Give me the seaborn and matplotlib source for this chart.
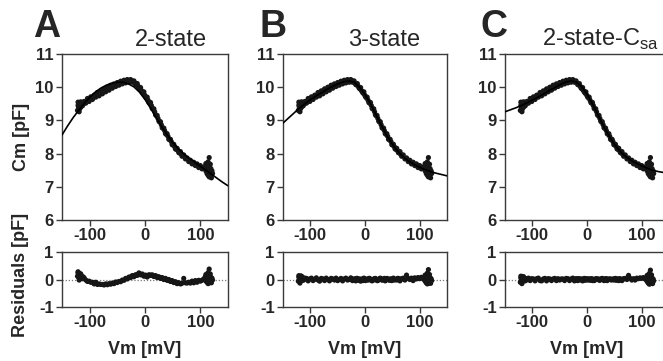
import matplotlib
matplotlib.use("Agg")
import matplotlib.pyplot as plt
import seaborn as sns
import pandas as pd

# ---------------- data ----------------
vm_left = [-122, -121, -121, -120, -120, -119, -119, -118, -118, -117, -116, -116,
           -115, -114, -113, -112, -111, -110]
vm_mid = [-107, -104, -101, -98, -95, -92, -89, -86, -83, -80,
          -77, -74, -71, -68, -65, -62, -59, -56, -53, -50,
          -47, -44, -41, -38, -35, -32, -29, -26, -23, -20,
          -17, -14, -11, -8, -5, -2, 1, 4, 7, 10,
          13, 16, 19, 22, 25, 28, 31, 34, 37, 40,
          43, 46, 49, 52, 55, 58, 61, 64, 67, 70,
          73, 76, 79, 82, 85, 88, 91, 94, 97, 100,
          103, 106]
vm_fall = [-24.5, -21.5, -18.5, -15.5, -12.5, -9.5, -6.5, -3.5, -0.5, 2.5,
           5.5, 8.5, 11.5, 14.5, 17.5, 20.5, 23.5, 26.5, 29.5, 32.5,
           35.5, 38.5, 41.5, 44.5, 47.5, 50.5, 53.5, 56.5, 59.5, 62.5,
           65.5]
vm_right = [108, 109, 110, 110, 111, 112, 112, 113, 114, 114, 115, 115,
            116, 116, 117, 117, 118, 118, 119, 120, 121, 122]

cm_left = [9.30, 9.45, 9.55, 9.38, 9.50, 9.26, 9.42, 9.35, 9.53, 9.45, 9.40, 9.56,
           9.48, 9.51, 9.44, 9.54, 9.50, 9.57]
cm_mid = [9.52, 9.66, 9.57, 9.71, 9.63, 9.76, 9.70, 9.84, 9.74, 9.89,
          9.80, 9.95, 9.86, 10.00, 9.91, 10.06, 9.97, 10.10, 10.02, 10.14,
          10.06, 10.18, 10.10, 10.21, 10.13, 10.23, 10.15, 10.23, 10.15, 10.19,
          10.08, 10.11, 9.98, 9.99, 9.86, 9.86, 9.71, 9.70, 9.54, 9.54,
          9.36, 9.35, 9.17, 9.15, 8.98, 8.96, 8.78, 8.77, 8.60, 8.60,
          8.43, 8.43, 8.27, 8.28, 8.14, 8.16, 8.03, 8.06, 7.92, 7.96,
          7.84, 7.87, 7.76, 7.80, 7.69, 7.74, 7.64, 7.69, 7.58, 7.64,
          7.54, 7.59]
cm_fall = [10.20, 10.17, 10.13, 10.07, 10.03, 9.95, 9.90, 9.82, 9.76, 9.68,
           9.61, 9.52, 9.45, 9.34, 9.26, 9.14, 9.06, 8.95, 8.87, 8.76,
           8.69, 8.58, 8.52, 8.42, 8.36, 8.26, 8.21, 8.13, 8.09, 8.02,
           7.98]
cm_right = [7.55, 7.62, 7.48, 7.70, 7.58, 7.40, 7.65, 7.52, 7.35, 7.75, 7.45, 7.60,
            7.30, 7.88, 7.50, 7.42, 7.38, 7.68, 7.55, 7.27, 7.48, 7.40]

resA_left = [0.12, 0.24, 0.28, 0.08, 0.20, -0.02, 0.14, 0.06, 0.22, 0.14, 0.06, 0.20,
             0.10, 0.10, 0.03, 0.10, 0.04, 0.06]
resA_mid = [-0.02, -0.07, -0.06, -0.10, -0.10, -0.16, -0.10, -0.18, -0.16, -0.18,
            -0.18, -0.20, -0.16, -0.19, -0.15, -0.17, -0.13, -0.15, -0.09, -0.11,
            -0.07, -0.08, -0.02, -0.03, 0.04, 0.02, 0.09, 0.07, 0.14, 0.10,
            0.17, 0.15, 0.24, 0.17, 0.20, 0.12, 0.16, 0.09, 0.17, 0.15,
            0.17, 0.11, 0.14, 0.07, 0.10, 0.04, 0.07, 0.00, 0.04, -0.03,
            0.00, -0.07, -0.04, -0.11, -0.08, -0.15, -0.12, -0.16, -0.13, 0.04,
            -0.12, -0.13, -0.10, -0.13, -0.06, -0.12, -0.04, -0.10, -0.03, -0.06,
            -0.03, 0.02]
resA_fall = [0.11, 0.13, 0.15, 0.16, 0.19, 0.20, 0.18, 0.16, 0.14, 0.13,
             0.14, 0.16, 0.15, 0.14, 0.12, 0.11, 0.09, 0.07, 0.05, 0.03,
             0.02, 0.00, -0.02, -0.04, -0.06, -0.08, -0.10, -0.12, -0.13, -0.14,
             -0.15]
resA_right = [0.02, 0.10, -0.05, 0.18, 0.05, -0.10, 0.15, 0.02, -0.15, 0.25, -0.05, 0.12,
              -0.12, 0.38, 0.05, -0.05, -0.08, 0.20, 0.08, -0.12, 0.05, -0.02]

resB_left = [-0.06, 0.08, 0.14, -0.02, 0.10, -0.13, 0.04, -0.05, 0.13, 0.05, -0.02, 0.12,
             0.03, 0.05, -0.03, 0.05, 0.00, 0.05]
resB_mid = [0.04, -0.05, 0.02, 0.05, -0.04, 0.01, 0.06, -0.02, -0.06, 0.04,
            0.02, -0.04, 0.05, 0.00, -0.05, 0.04, 0.02, -0.02, 0.05, -0.04,
            0.00, 0.04, -0.05, 0.02, 0.05, -0.02, 0.00, 0.06, -0.04, 0.02,
            -0.05, 0.04, 0.00, -0.06, 0.02, 0.05, -0.04, 0.00, 0.04, -0.02,
            -0.05, 0.02, 0.04, -0.04, 0.00, 0.05, -0.02, 0.02, -0.05, 0.04,
            0.00, 0.02, -0.04, 0.05, 0.00, -0.02, 0.04, -0.05, 0.02, 0.05,
            -0.02, 0.16, 0.04, 0.00, 0.05, -0.04, 0.06, 0.02, 0.07, 0.03,
            0.08, 0.04]
resB_fall = [0.03, -0.02, 0.01, 0.04, -0.03, 0.02, 0.00, -0.04, 0.03, 0.01,
             -0.02, 0.04, 0.00, -0.03, 0.02, 0.01, -0.04, 0.03, 0.00, -0.02,
             0.04, -0.01, 0.02, -0.03, 0.01, 0.03, -0.02, 0.00, 0.04, -0.01,
             0.02]
resB_right = [0.00, 0.08, -0.06, 0.16, 0.04, -0.12, 0.13, 0.00, -0.16, 0.23, -0.06, 0.10,
              -0.14, 0.36, 0.04, -0.06, -0.10, 0.18, 0.06, -0.14, 0.03, -0.04]

resC_left = [-0.10, 0.05, 0.12, -0.05, 0.08, -0.15, 0.02, -0.07, 0.11, 0.03, -0.04, 0.10,
             0.01, 0.03, -0.05, 0.03, -0.02, 0.03]
resC_mid = [0.05, -0.04, 0.03, 0.02, -0.05, 0.03, 0.05, -0.04, -0.05, 0.02,
            0.04, -0.05, 0.03, 0.02, -0.04, 0.02, 0.04, -0.04, 0.03, -0.02,
            0.02, 0.02, -0.04, 0.04, 0.03, -0.04, 0.02, 0.05, -0.05, 0.03,
            -0.04, 0.02, 0.02, -0.05, 0.04, 0.03, -0.02, 0.02, 0.02, -0.04,
            -0.04, 0.03, 0.02, -0.02, 0.02, 0.04, -0.04, 0.03, -0.04, 0.02,
            0.02, 0.00, -0.02, 0.04, 0.02, -0.04, 0.02, -0.04, 0.03, 0.04,
            0.00, 0.15, 0.04, -0.02, 0.03, -0.02, 0.05, 0.03, 0.06, 0.04,
            0.07, 0.03]
resC_fall = [0.02, -0.03, 0.02, 0.03, -0.02, 0.01, 0.01, -0.03, 0.02, 0.02,
             -0.03, 0.03, 0.01, -0.02, 0.01, 0.02, -0.03, 0.02, 0.01, -0.03,
             0.03, 0.00, 0.01, -0.02, 0.02, 0.02, -0.03, 0.01, 0.03, -0.02,
             0.01]
resC_right = [-0.01, 0.07, -0.07, 0.15, 0.03, -0.13, 0.12, -0.01, -0.17, 0.22, -0.07, 0.09,
              -0.15, 0.34, 0.03, -0.07, -0.11, 0.17, 0.05, -0.15, 0.02, -0.05]

fit_vm = [-150, -140, -130, -120, -110, -100, -90, -80, -70, -60, -50, -40, -30, -20, -10,
          0, 10, 20, 30, 40, 50, 60, 70, 80, 90, 100, 110, 120, 130, 140, 150]
fit_2state = [8.56, 8.83, 9.08, 9.30, 9.51, 9.69, 9.85, 9.97, 10.06, 10.12, 10.15, 10.15,
              10.10, 10.01, 9.85, 9.63, 9.37, 9.09, 8.82, 8.57, 8.34, 8.15, 7.99, 7.86,
              7.74, 7.62, 7.50, 7.38, 7.26, 7.14, 7.03]
fit_3state = [8.92, 9.07, 9.22, 9.37, 9.50, 9.62, 9.73, 9.83, 9.93, 10.02, 10.10, 10.16,
              10.19, 10.15, 10.00, 9.78, 9.50, 9.18, 8.85, 8.55, 8.28, 8.07, 7.90, 7.77,
              7.67, 7.59, 7.52, 7.46, 7.41, 7.37, 7.33]
fit_2stateCsa = [9.26, 9.32, 9.38, 9.45, 9.53, 9.61, 9.70, 9.79, 9.89, 9.98, 10.07, 10.15,
                 10.19, 10.16, 10.02, 9.79, 9.50, 9.17, 8.84, 8.54, 8.28, 8.08, 7.92, 7.80,
                 7.71, 7.63, 7.56, 7.50, 7.46, 7.43, 7.41]

panel_letters = ["A", "B", "C"]
panel_titles = ["2-state", "3-state", r"2-state-C$_{\mathregular{sa}}$"]

# ---------------- build tables ----------------
vm = vm_left + vm_mid + vm_fall + vm_right
cm = cm_left + cm_mid + cm_fall + cm_right
data = pd.DataFrame({"Vm": vm, "Cm": cm,
                     "resA": resA_left + resA_mid + resA_fall + resA_right,
                     "resB": resB_left + resB_mid + resB_fall + resB_right,
                     "resC": resC_left + resC_mid + resC_fall + resC_right})
fits = pd.DataFrame({"Vm": fit_vm, "A": fit_2state, "B": fit_3state, "C": fit_2stateCsa})

# ---------------- style ----------------
sns.set_style("ticks")
plt.rcParams["font.family"] = ["Liberation Sans", "DejaVu Sans"]
plt.rcParams["mathtext.fontset"] = "custom"
plt.rcParams["mathtext.rm"] = "Liberation Sans"
plt.rcParams["axes.unicode_minus"] = False

fig = plt.figure(figsize=(6.63, 3.61), dpi=100)
W, H = 663.0, 361.0
lefts = [62, 283, 505]
widths = [166, 164, 164]
title_x = [135, 348, 542]
letter_x = [33, 259, 480]
spine_col = "#3a3a3a"
dot_col = "#161616"

for i, key in enumerate(["A", "B", "C"]):
    l = lefts[i] / W
    w = widths[i] / W
    ax = fig.add_axes([l, 1 - 220 / H, w, 166 / H])
    axr = fig.add_axes([l, 1 - 307 / H, w, 55 / H])

    sns.scatterplot(data=data, x="Vm", y="Cm", ax=ax, color=dot_col, s=14,
                    edgecolor="none", linewidth=0, legend=False, zorder=2)
    sns.lineplot(data=fits, x="Vm", y=key, ax=ax, color="black", linewidth=1.2,
                 zorder=3, legend=False)
    axr.axhline(0, color="#777777", linestyle=(0, (1, 1.5)), linewidth=0.9, zorder=1)
    sns.scatterplot(data=data, x="Vm", y="res" + key, ax=axr, color=dot_col, s=14,
                    edgecolor="none", linewidth=0, legend=False, zorder=2)

    ax.set_xlim(-150, 150)
    ax.set_ylim(6, 11)
    ax.set_yticks([6, 7, 8, 9, 10, 11])
    axr.set_xlim(-150, 150)
    axr.set_ylim(-1, 1)
    axr.set_yticks([-1, 0, 1])
    for a in (ax, axr):
        a.set_xticks([-100, 0, 100])
        a.set_xlabel("")
        a.set_ylabel("")
        a.tick_params(direction="out", length=4, width=1, labelsize=12, pad=2,
                      color=spine_col)
        for lab in a.get_xticklabels() + a.get_yticklabels():
            lab.set_fontweight("bold")
        for sp in a.spines.values():
            sp.set_visible(True)
            sp.set_color(spine_col)
            sp.set_linewidth(1.0)

    fig.text(letter_x[i] / W, 1 - 45 / H, panel_letters[i], fontsize=27,
             fontweight="bold", ha="left", va="bottom")
    fig.text(title_x[i] / W, 1 - 46 / H, panel_titles[i], fontsize=17,
             ha="left", va="baseline")
    fig.text((lefts[i] + widths[i] / 2) / W, 1 - 349 / H, "Vm [mV]", fontsize=13,
             fontweight="bold", ha="center", va="center")

fig.text(21 / W, 1 - 137 / H, "Cm [pF]", fontsize=13, fontweight="bold",
         rotation=90, ha="center", va="center")
fig.text(21 / W, 1 - 275 / H, "Residuals [pF]", fontsize=13, fontweight="bold",
         rotation=90, ha="center", va="center")

fig.savefig("out.png", dpi=100)
